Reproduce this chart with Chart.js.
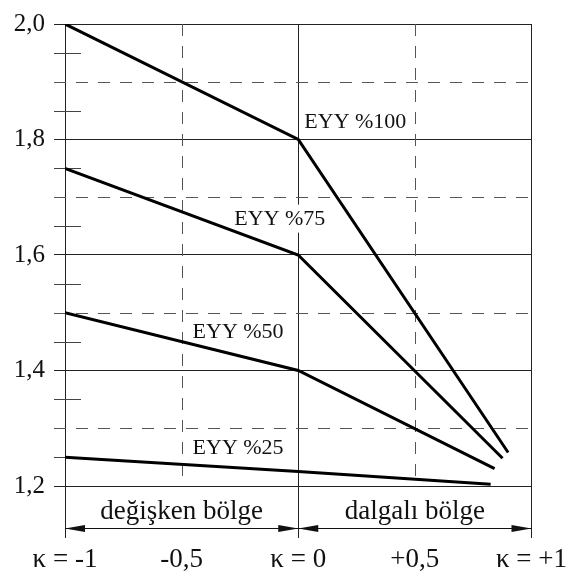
<!DOCTYPE html>
<html lang="tr">
<head>
<meta charset="UTF-8">
<title>EYY</title>
<script src="https://cdn.jsdelivr.net/npm/chart.js"></script>
<style>
  body { margin: 0; background: #fff; }
  #wrap { width: 573px; height: 579px; position: relative; }
</style>
</head>
<body>
<div id="wrap"><canvas id="chart"></canvas></div>
<script>
// series: kappa (x) and ratio (y) per curve
const seriesNames = ['EYY %100', 'EYY %75', 'EYY %50', 'EYY %25'];
const kappaValues = [
  [-1, 0, 0.90],
  [-1, 0, 0.876],
  [-1, 0, 0.842],
  [-1, 0, 0.825]
];
const ratioValues = [
  [2.0, 1.8, 1.258],
  [1.75, 1.6, 1.248],
  [1.5, 1.4, 1.23],
  [1.25, 1.225, 1.203]
];
// where each curve name sits (left edge, vertical centre) in data units
const labelKappa = [0.026, -0.274, -0.453, -0.453];
const labelRatio = [1.831, 1.663, 1.468, 1.267];

const xTickValues = [-1, -0.5, 0, 0.5, 1];
const xTickLabels = ['κ = -1', '-0,5', 'κ = 0', '+0,5', 'κ = +1'];
const solidX = [-1, 0, 1];
const dashedX = [-0.5, 0.5];
const dashedY = [1.3, 1.5, 1.7, 1.9];
const minorY = [1.25, 1.35, 1.45, 1.55, 1.65, 1.75, 1.85, 1.95];
const zoneNames = ['değişken bölge', 'dalgalı bölge'];
const zoneBounds = [[-1, 0], [0, 1]];

const SERIF = '"Liberation Serif", "Times New Roman", serif';

function isSolidX(v) {
  return solidX.some(s => Math.abs(s - v) < 1e-6);
}

const extras = {
  id: 'extras',
  beforeDatasetsDraw(chart) {
    const { ctx, chartArea: a, scales: { x, y } } = chart;
    ctx.save();
    // dashed grid
    ctx.strokeStyle = '#555';
    ctx.lineWidth = 1;
    ctx.setLineDash([12, 10]);
    dashedY.forEach(v => {
      const py = Math.round(y.getPixelForValue(v)) + 0.5;
      ctx.beginPath();
      ctx.moveTo(a.left - 11, py);
      ctx.lineTo(a.right, py);
      ctx.stroke();
    });
    dashedX.forEach(v => {
      const px = Math.round(x.getPixelForValue(v)) + 0.5;
      ctx.beginPath();
      ctx.moveTo(px, a.top);
      ctx.lineTo(px, a.bottom);
      ctx.stroke();
    });
    ctx.setLineDash([]);
    // minor ticks on the left
    ctx.strokeStyle = '#444';
    minorY.forEach(v => {
      const py = Math.round(y.getPixelForValue(v)) + 0.5;
      ctx.beginPath();
      ctx.moveTo(a.left - 11, py);
      ctx.lineTo(a.left + 16, py);
      ctx.stroke();
    });
    // curve names with white box
    ctx.font = '22px ' + SERIF;
    ctx.textBaseline = 'middle';
    ctx.textAlign = 'left';
    seriesNames.forEach((name, i) => {
      const px = x.getPixelForValue(labelKappa[i]);
      const py = y.getPixelForValue(labelRatio[i]);
      const w = ctx.measureText(name).width;
      ctx.fillStyle = '#fff';
      ctx.fillRect(px - 4, py - 14, w + 9, 28);
      ctx.fillStyle = '#111';
      ctx.fillText(name, px, py + 1);
    });
    ctx.restore();
  },
  afterDraw(chart) {
    const { ctx, chartArea: a, scales: { x } } = chart;
    ctx.save();
    const ay = a.bottom + 42.5;
    ctx.strokeStyle = '#111';
    ctx.fillStyle = '#111';
    ctx.lineWidth = 1;
    zoneBounds.forEach((b, i) => {
      const x0 = x.getPixelForValue(b[0]);
      const x1 = x.getPixelForValue(b[1]);
      ctx.beginPath();
      ctx.moveTo(x0, ay);
      ctx.lineTo(x1, ay);
      ctx.stroke();
      // arrow heads
      ctx.beginPath();
      ctx.moveTo(x0, ay);
      ctx.lineTo(x0 + 20, ay - 3.5);
      ctx.lineTo(x0 + 20, ay + 3.5);
      ctx.closePath();
      ctx.fill();
      ctx.beginPath();
      ctx.moveTo(x1, ay);
      ctx.lineTo(x1 - 20, ay - 3.5);
      ctx.lineTo(x1 - 20, ay + 3.5);
      ctx.closePath();
      ctx.fill();
      ctx.font = '27px ' + SERIF;
      ctx.textAlign = 'center';
      ctx.textBaseline = 'middle';
      ctx.fillText(zoneNames[i], (x0 + x1) / 2, a.bottom + 26);
    });
    ctx.restore();
  }
};

const datasets = seriesNames.map((name, i) => ({
  label: name,
  data: kappaValues[i].map((k, j) => ({ x: k, y: ratioValues[i][j] })),
  borderColor: '#000',
  borderWidth: 3,
  pointRadius: 0,
  tension: 0,
  fill: false
}));

new Chart(document.getElementById('chart'), {
  type: 'line',
  data: { datasets },
  options: {
    responsive: true,
    maintainAspectRatio: false,
    animation: false,
    layout: { padding: { top: 18, right: 40, left: 0, bottom: 0 } },
    plugins: { legend: { display: false }, tooltip: { enabled: false } },
    scales: {
      x: {
        type: 'linear',
        min: -1,
        max: 1,
        afterFit: s => { s.height = 93; },
        afterBuildTicks: s => { s.ticks = xTickValues.map(v => ({ value: v })); },
        ticks: {
          padding: 6,
          color: '#111',
          font: { family: SERIF, size: 27 },
          maxRotation: 0,
          autoSkip: false,
          callback: v => {
            const i = xTickValues.findIndex(t => Math.abs(t - v) < 1e-6);
            return i >= 0 ? xTickLabels[i] : '';
          }
        },
        grid: {
          color: c => isSolidX(c.tick.value) ? '#222' : 'rgba(0,0,0,0)',
          tickColor: c => isSolidX(c.tick.value) ? '#222' : 'rgba(0,0,0,0)',
          tickLength: 52,
          lineWidth: 1
        },
        border: { display: true, color: '#222' }
      },
      y: {
        min: 1.2,
        max: 2.0,
        afterFit: s => { s.width = 65; },
        ticks: {
          stepSize: 0.2,
          padding: 9,
          color: '#111',
          font: { family: SERIF, size: 25 },
          callback: v => v.toFixed(1).replace('.', ',')
        },
        grid: { color: '#222', tickColor: '#222', tickLength: 11, lineWidth: 1 },
        border: { display: true, color: '#222' }
      }
    }
  },
  plugins: [extras]
});
</script>
</body>
</html>
